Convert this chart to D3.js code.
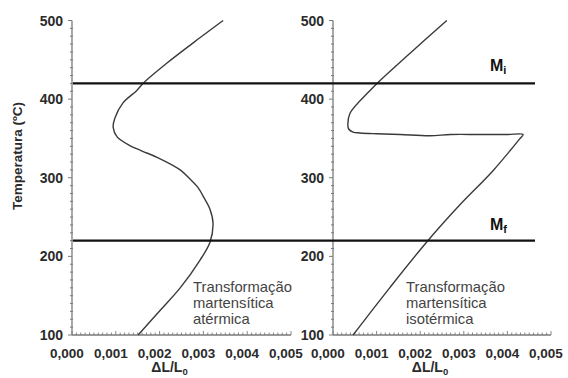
<!DOCTYPE html>
<html>
<head>
<meta charset="utf-8">
<script src="https://cdn.jsdelivr.net/npm/d3@7"></script>
<style>
  html, body { margin: 0; padding: 0; background: #fff; }
  svg { display: block; }
  text { font-family: Arial, "Liberation Sans", sans-serif; }
</style>
</head>
<body>
<svg id="chart" width="568" height="378"></svg>
<script>
// ---- data ----
const yTicks = [100, 200, 300, 400, 500];
const xTicks = [0, 0.001, 0.002, 0.003, 0.004, 0.005];
const xTickLabels = ["0,000", "0,001", "0,002", "0,003", "0,004", "0,005"];

// Athermal curve (path order, from bottom to top)
const athermalDL = [0.00151, 0.00199, 0.00247, 0.00292, 0.00315, 0.00322, 0.00315, 0.00301, 0.00287, 0.00270, 0.00247, 0.00194, 0.00160, 0.00132, 0.00103, 0.00094, 0.00098, 0.00116, 0.00148, 0.00162, 0.00217, 0.00292, 0.00345];
const athermalT  = [100, 130, 160, 195, 218, 242, 260, 275, 288, 298, 310, 326, 334, 341, 352, 364, 376, 395, 411, 420, 446, 478, 500];

// Isothermal curve (path order)
const isoDL = [0.00046, 0.00130, 0.00216, 0.00290, 0.00367, 0.00429, 0.00436, 0.00400, 0.00337, 0.00270, 0.00222, 0.00154, 0.00100, 0.00062, 0.00046, 0.00036, 0.00034, 0.00039, 0.00085, 0.00101, 0.00180, 0.00261];
const isoT  = [100, 160, 219, 265, 309, 350, 355, 355, 355, 355, 353.5, 355, 356, 357, 358, 362, 367, 382, 411, 420, 460, 500];

const Mi = 420, Mf = 220;
const annotA = ["Transformação", "martensítica", "atérmica"];
const annotB = ["Transformação", "martensítica", "isotérmica"];

// ---- layout ----
const svg = d3.select("#chart");
svg.append("rect").attr("width", 568).attr("height", 378).attr("fill", "#fff");

const y = d3.scaleLinear().domain([100, 500]).range([335, 20.5]);
const panels = [
  { x0: 72, x1: 291, dl: athermalDL, t: athermalT, annot: annotA, ax: 193 },
  { x0: 333, x1: 551, dl: isoDL, t: isoT, annot: annotB, ax: 406 }
];

const axisColor = "#7a7a7a";
const textColor = "#2b2b2b";

panels.forEach(p => {
  const x = d3.scaleLinear().domain([0, 0.005]).range([p.x0, p.x1]);
  const g = svg.append("g");

  // y axis line
  g.append("line").attr("x1", p.x0).attr("x2", p.x0).attr("y1", y(500)).attr("y2", y(100))
    .attr("stroke", axisColor).attr("stroke-width", 1.3);
  d3.range(100, 501, 10).forEach(v => {
    const major = v % 100 === 0;
    g.append("line").attr("x1", major ? p.x0 - 4 : p.x0 - 2).attr("x2", p.x0 + (major ? 0 : 1))
      .attr("y1", y(v)).attr("y2", y(v)).attr("stroke", axisColor).attr("stroke-width", 1);
  });
  g.selectAll(".yl").data(yTicks).enter().append("text")
    .attr("x", p.x0 - 9).attr("y", d => y(d) + 5)
    .attr("text-anchor", "end").attr("font-size", 14).attr("font-weight", "bold")
    .attr("fill", textColor).text(d => d);

  // x axis line
  g.append("line").attr("x1", p.x0).attr("x2", p.x1).attr("y1", y(100)).attr("y2", y(100))
    .attr("stroke", axisColor).attr("stroke-width", 1.3);
  d3.range(0, 51).forEach(i => {
    const v = i * 0.0001;
    const major = i % 10 === 0;
    g.append("line").attr("x1", x(v)).attr("x2", x(v))
      .attr("y1", y(100)).attr("y2", y(100) - (major ? 4 : 2.5))
      .attr("stroke", axisColor).attr("stroke-width", 0.9);
  });
  g.selectAll(".xl").data(xTicks).enter().append("text")
    .attr("x", d => x(d) - 5).attr("y", 358)
    .attr("text-anchor", "middle").attr("font-size", 13.5).attr("font-weight", "bold")
    .attr("fill", textColor).text((d, i) => xTickLabels[i]);

  // x axis title ΔL/L0
  const cx = (p.x0 + p.x1) / 2 - 12;
  const tt = g.append("text").attr("x", cx).attr("y", 372).attr("text-anchor", "middle")
    .attr("font-size", 14).attr("font-weight", "bold").attr("fill", textColor);
  tt.append("tspan").text("ΔL/L");
  tt.append("tspan").attr("font-size", 9.5).attr("dy", 2.5).text("0");

  // curve
  const pts = p.dl.map((d, i) => [x(d), y(p.t[i])]);
  g.append("path").attr("d", d3.line().curve(d3.curveCatmullRom.alpha(0.5))(pts))
    .attr("fill", "none").attr("stroke", "#3a3a3a").attr("stroke-width", 1.4);

  // annotation
  p.annot.forEach((s, i) => {
    g.append("text").attr("x", p.ax).attr("y", 292 + i * 16).attr("font-size", 14.8)
      .attr("fill", "#444").text(s);
  });
});

// Mi / Mf lines
[Mi, Mf].forEach(v => {
  svg.append("line").attr("x1", 73).attr("x2", 535).attr("y1", y(v)).attr("y2", y(v))
    .attr("stroke", "#111").attr("stroke-width", 2.4);
});
function mlabel(sub, yy) {
  const t = svg.append("text").attr("x", 490).attr("y", yy).attr("font-size", 16)
    .attr("font-weight", "bold").attr("fill", "#111");
  t.append("tspan").text("M");
  t.append("tspan").attr("font-size", 11).attr("dy", 3).text(sub);
}
mlabel("i", 71);
mlabel("f", 230);

// y axis title
svg.append("text").attr("transform", "translate(22,156) rotate(-90)")
  .attr("text-anchor", "middle").attr("font-size", 13.5).attr("font-weight", "bold")
  .attr("fill", textColor).text("Temperatura (ºC)");
</script>
</body>
</html>
